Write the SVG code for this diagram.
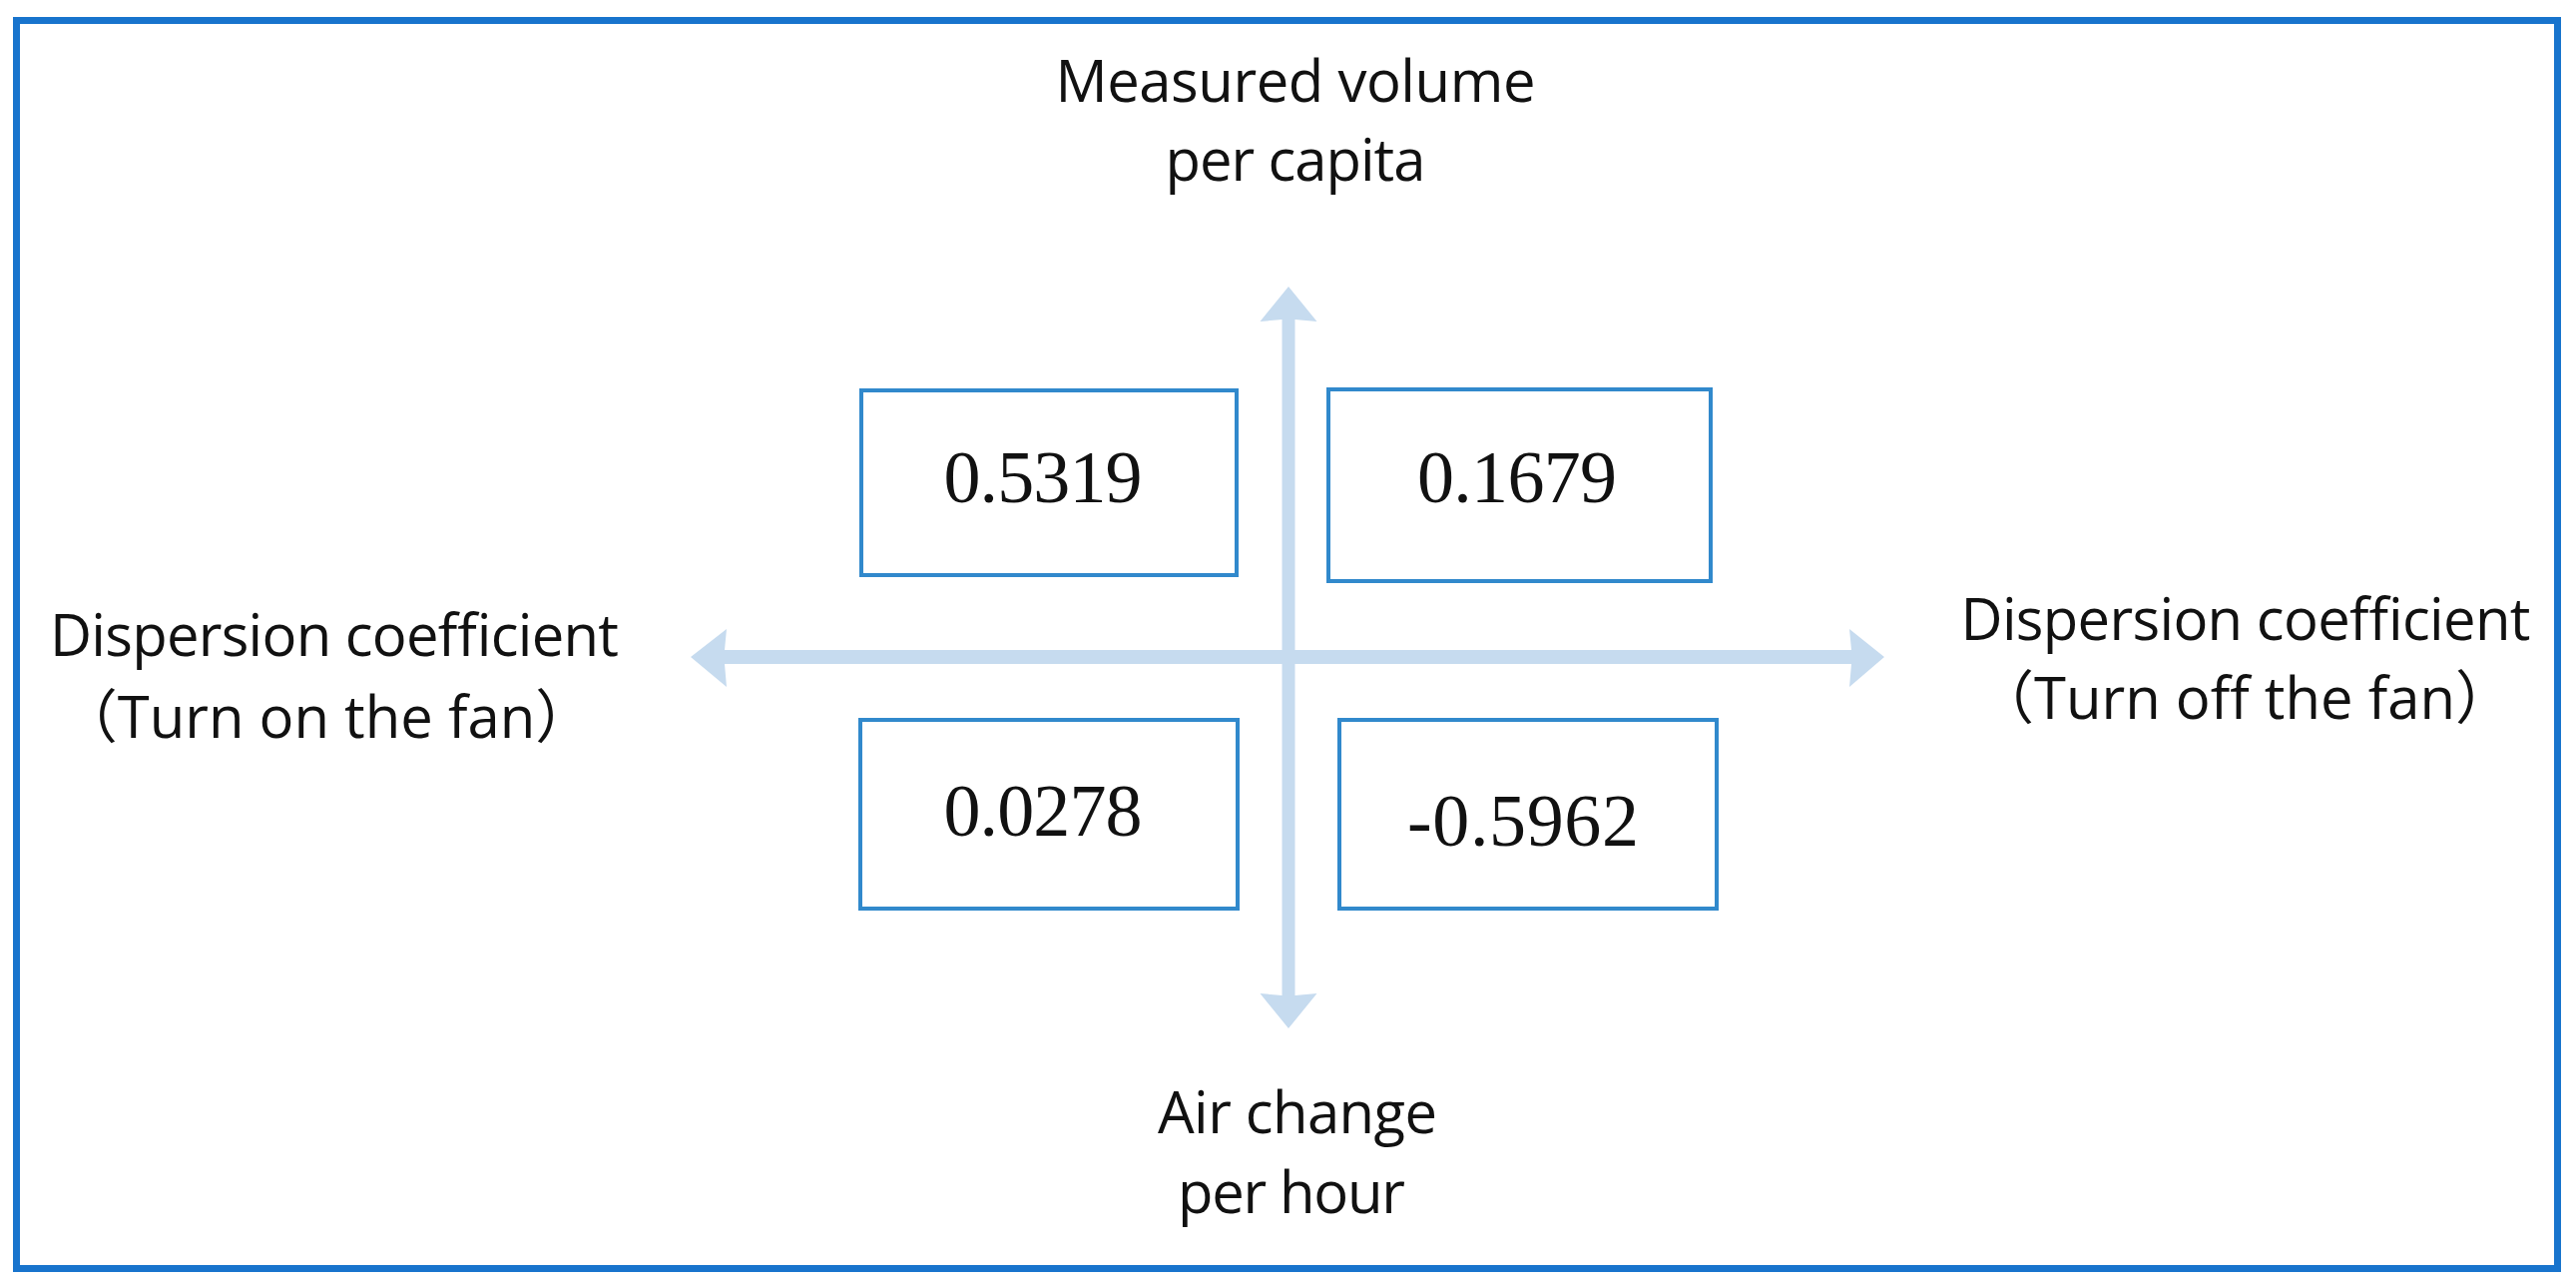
<svg xmlns="http://www.w3.org/2000/svg" width="2581" height="1286" viewBox="0 0 2581 1286">
<style>
.frame{fill:#ffffff;stroke:#1874CD;stroke-width:7}
.box{fill:#ffffff;stroke:#3189CC;stroke-width:4}
.axis{fill:#C6DBEF;stroke:none}
.lbl{font-family:"Open Sans","Noto Sans CJK SC",sans-serif;font-size:58px;fill:#111111;text-anchor:middle}
.num{font-family:"Liberation Serif","Times New Roman",serif;font-size:74px;fill:#111111;text-anchor:middle}
</style>
<rect class="frame" x="16.5" y="20.5" width="2546" height="1250"/>
<g id="connectors">
  <polygon class="axis" points="1284.5,320 1262.5,322 1291,287 1319.5,322 1297.5,320 1297.5,997 1319.5,995 1291,1030 1262.5,995 1284.5,997"/>
  <polygon class="axis" points="726,651 728,630 692,658 728,688 726,665 1855,665 1853,688 1888,658 1853,630 1855,651"/>
</g>
<g id="label-top">
  <text class="lbl" x="1298" y="102" textLength="481">Measured volume</text>
  <text class="lbl" x="1298" y="181" textLength="261">per capita</text>
</g>
<g id="label-bottom">
  <text class="lbl" x="1300" y="1135" textLength="280">Air change</text>
  <text class="lbl" x="1294" y="1215" textLength="228">per hour</text>
</g>
<g id="label-left">
  <text class="lbl" x="335" y="657" textLength="570">Dispersion coefficient</text>
  <text class="lbl" x="327" y="739">（Turn on the fan）</text>
</g>
<g id="label-right">
  <text class="lbl" x="2250" y="641" textLength="571">Dispersion coefficient</text>
  <text class="lbl" x="2249" y="720">（Turn off the fan）</text>
</g>
<g id="box-tl">
  <rect class="box" x="863" y="391" width="376" height="185"/>
  <text class="num" x="1045" y="503" textLength="199">0.5319</text>
</g>
<g id="box-tr">
  <rect class="box" x="1331" y="390" width="383" height="192"/>
  <text class="num" x="1520" y="503" textLength="200">0.1679</text>
</g>
<g id="box-bl">
  <rect class="box" x="862" y="721" width="378" height="189"/>
  <text class="num" x="1045" y="837" textLength="199">0.0278</text>
</g>
<g id="box-br">
  <rect class="box" x="1342" y="721" width="378" height="189"/>
  <text class="num" x="1526" y="847" textLength="232">-0.5962</text>
</g>
</svg>
